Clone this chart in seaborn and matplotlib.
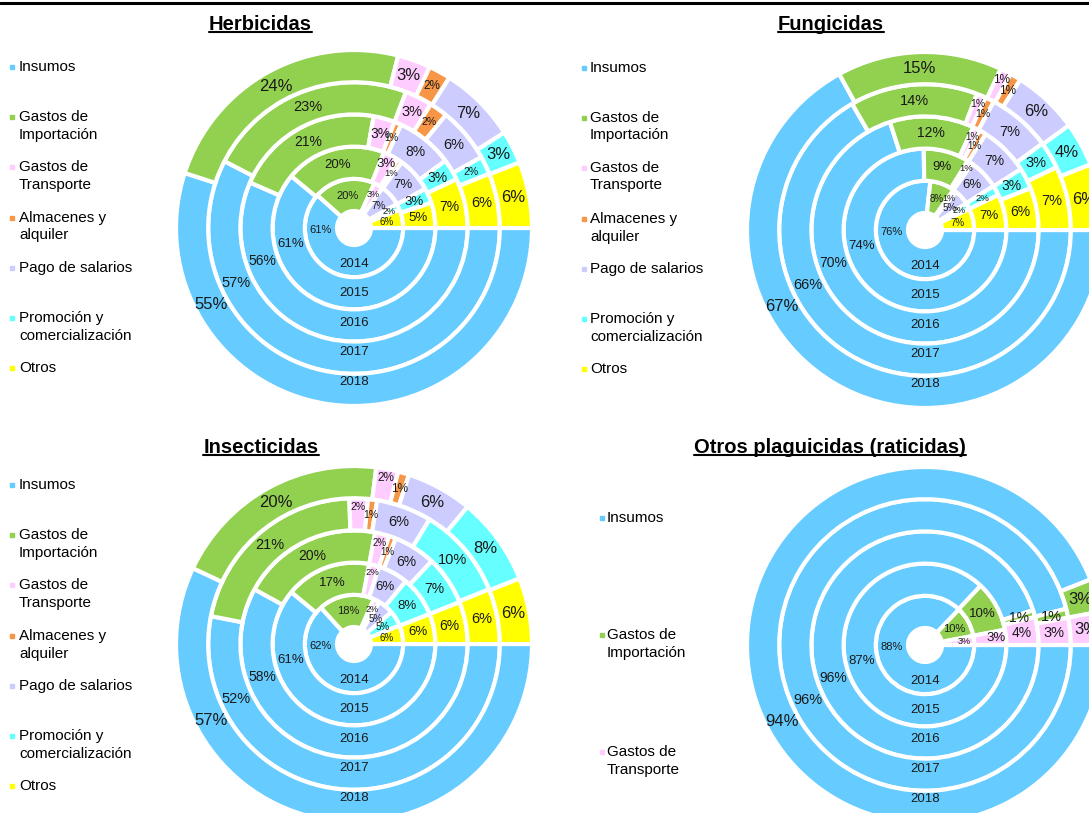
import matplotlib
matplotlib.use('Agg')
import matplotlib.pyplot as plt
from matplotlib.patches import Rectangle
from matplotlib.lines import Line2D
import numpy as np
import seaborn as sns

sns.set_theme(style='white')
plt.rcParams['font.family'] = ['Liberation Sans', 'DejaVu Sans']

W, H = 1089, 813

# --- data (percent per ring, 2014 -> 2018, inner -> outer) ---
YEARS = ['2014', '2015', '2016', '2017', '2018']
CATEGORIES = ['Insumos', 'Gastos de\nImportación', 'Gastos de\nTransporte',
              'Almacenes y\nalquiler', 'Pago de salarios',
              'Promoción y\ncomercialización', 'Otros']
COLORS = ['#66CCFF', '#92D050', '#FFCCFF', '#F79646', '#CCCCFF', '#66FFFF', '#FFFF00']

HERB_INSUMOS = [61, 61, 56, 57, 55]
HERB_IMPORT = [20, 20, 21, 23, 24]
HERB_TRANSP = [3, 3, 3, 3, 3]
HERB_ALMAC = [0, 1, 1, 2, 2]
HERB_SALAR = [7, 7, 8, 6, 7]
HERB_PROMO = [2, 3, 3, 2, 3]
HERB_OTROS = [6, 5, 7, 6, 6]

FUNG_INSUMOS = [76, 74, 70, 66, 67]
FUNG_IMPORT = [8, 9, 12, 14, 15]
FUNG_TRANSP = [1, 1, 1, 1, 1]
FUNG_ALMAC = [0, 0, 1, 1, 1]
FUNG_SALAR = [5, 6, 7, 7, 6]
FUNG_PROMO = [2, 2, 3, 3, 4]
FUNG_OTROS = [7, 7, 6, 7, 6]

INSE_INSUMOS = [62, 61, 58, 52, 57]
INSE_IMPORT = [18, 17, 20, 21, 20]
INSE_TRANSP = [2, 2, 2, 2, 2]
INSE_ALMAC = [0, 0, 1, 1, 1]
INSE_SALAR = [5, 6, 6, 6, 6]
INSE_PROMO = [5, 8, 7, 10, 8]
INSE_OTROS = [6, 6, 6, 6, 6]

RATI_INSUMOS = [88, 87, 96, 96, 94]
RATI_IMPORT = [10, 10, 1, 1, 3]
RATI_TRANSP = [3, 3, 4, 3, 3]

# --- geometry (pixels) ---
R0, RW = 17, 32.2
PCT_SIZE = [8, 9.5, 10, 10.5, 12]
SMALL_SIZE = [6.5, 6.8, 7, 7.5, 8.5]
INSUMOS_ANGLE = [3, 14, 20, 25, 28]   # degrees below west for Insumos labels
YEAR_SHIFT = [3, 0, -3, -5.5, -8]

fig = plt.figure(figsize=(W / 100, H / 100), dpi=100)


def px(x, y):
    return x / W, 1 - y / H


def draw_donut(cx, cy, series, colors, shrink_small=True):
    half = 215
    ax = fig.add_axes([(cx - half) / W, (H - cy - half) / H, 2 * half / W, 2 * half / H])
    for k in range(len(YEARS)):
        keep = [(s[k], c) for s, c in zip(series, colors) if s[k] > 0]
        vals = [v for v, _ in keep]
        total = sum(vals)
        r_out = R0 + (k + 1) * RW
        r_mid = r_out - RW / 2
        _, _, autos = ax.pie(vals, colors=[c for _, c in keep], radius=r_out,
                             startangle=0, counterclock=False,
                             wedgeprops=dict(width=RW, edgecolor='white', linewidth=3),
                             autopct=lambda p, t=total: f'{p * t / 100:.0f}%',
                             pctdistance=r_mid / r_out,
                             textprops=dict(color='#1a1a1a'))
        for i, (t, v) in enumerate(zip(autos, vals)):
            size = PCT_SIZE[k]
            if k == 0 and i >= 1 and v < 10:
                size = 6.5 if v <= 3 else 7
            elif shrink_small and v <= 2:
                size = SMALL_SIZE[k]
            t.set_fontsize(size)
            # nudge crowded little labels outward
            push = 0
            if i >= 2 and v <= 2 and i + 1 < len(vals) and vals[i + 1] <= 2:
                push = 7
            elif i >= 2 and k == 0 and v <= 3:
                push = 6
            elif i == 2 and k == 1 and v <= 3:
                push = 6 if v == 3 else 9
            if push:
                x, y = t.get_position()
                f = (r_mid + push) / r_mid
                t.set_position((x * f, y * f))
        a = np.radians(INSUMOS_ANGLE[k])
        autos[0].set_position((-r_mid * np.cos(a), -r_mid * np.sin(a)))
        ax.text(0, -(r_mid + YEAR_SHIFT[k]), YEARS[k], ha='center', va='center',
                fontsize=9.5, color='#1a1a1a')
    ax.set_xlim(-half, half)
    ax.set_ylim(-half, half)
    ax.set_aspect('equal')
    ax.axis('off')


def draw_legend(mx, tx, rows, names, colors):
    for y, name, c in zip(rows, names, colors):
        fig.add_artist(Rectangle(px(mx, y + 2), 4 / W, 4 / H, color=c,
                                 transform=fig.transFigure))
        for j, line in enumerate(name.split('\n')):
            fig.text(*px(tx, y + 17.5 * j), line, ha='left', va='center',
                     fontsize=11, color='black')


titles = []


def draw_title(x, y, label):
    titles.append(fig.text(*px(x, y), label, ha='center', va='center',
                           fontsize=14.5, fontweight='bold', color='black'))


herb = [HERB_INSUMOS, HERB_IMPORT, HERB_TRANSP, HERB_ALMAC, HERB_SALAR, HERB_PROMO, HERB_OTROS]
fung = [FUNG_INSUMOS, FUNG_IMPORT, FUNG_TRANSP, FUNG_ALMAC, FUNG_SALAR, FUNG_PROMO, FUNG_OTROS]
inse = [INSE_INSUMOS, INSE_IMPORT, INSE_TRANSP, INSE_ALMAC, INSE_SALAR, INSE_PROMO, INSE_OTROS]
rati = [RATI_INSUMOS, RATI_IMPORT, RATI_TRANSP]

legend_rows = [67, 117, 167, 218, 268, 318, 368]

draw_donut(354, 228, herb, COLORS)
draw_donut(925, 230, fung, COLORS)
draw_donut(354, 644, inse, COLORS)
draw_donut(925, 645, rati, COLORS[:3], shrink_small=False)

draw_legend(10, 19, legend_rows, CATEGORIES, COLORS)
draw_legend(582, 590, [y + 1 for y in legend_rows], CATEGORIES, COLORS)
draw_legend(10, 19, [y + 418 for y in legend_rows], CATEGORIES, COLORS)
draw_legend(600, 607, [518, 635, 752], CATEGORIES[:3], COLORS[:3])

draw_title(260.5, 24.5, 'Herbicidas')
draw_title(831, 24.5, 'Fungicidas')
draw_title(261, 447.5, 'Insecticidas')
draw_title(830, 447.5, 'Otros plaguicidas (raticidas)')

# top rule
fig.add_artist(Line2D([0, 1], [1 - 3 / H, 1 - 3 / H], color='black', linewidth=2.2,
                      transform=fig.transFigure))

# underline titles
fig.canvas.draw()
renderer = fig.canvas.get_renderer()
for t in titles:
    bb = t.get_window_extent(renderer)
    fig.add_artist(Line2D([bb.x0 / W, bb.x1 / W], [(bb.y0 + 1.5) / H, (bb.y0 + 1.5) / H],
                          color='black', linewidth=1.5, transform=fig.transFigure))

fig.savefig('out.png', dpi=100)
